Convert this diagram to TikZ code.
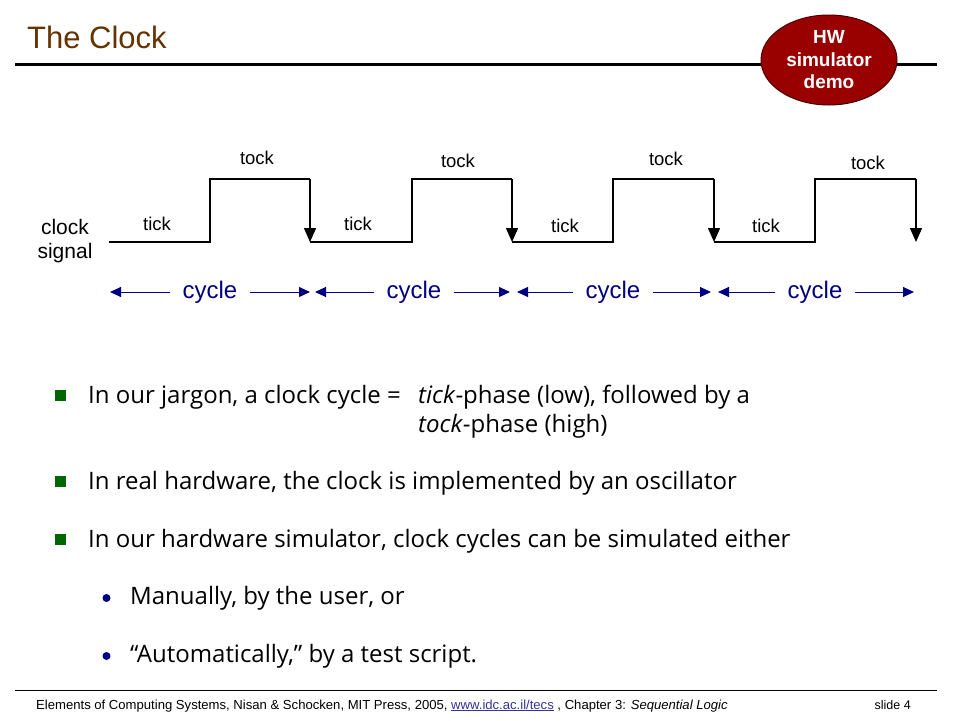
\documentclass[tikz,border=0pt]{standalone}
\usepackage{fontspec}
\setmainfont{Liberation Sans}
\newfontfamily\bodyfont{Open Sans}
\usetikzlibrary{arrows.meta,shapes.geometric}
\definecolor{titlebrown}{HTML}{663300}
\definecolor{demored}{HTML}{990000}
\definecolor{demoedge}{HTML}{4A0000}
\definecolor{cyclenavy}{HTML}{000080}
\definecolor{bulletgreen}{HTML}{006600}
\definecolor{linkblue}{HTML}{333399}
\tikzset{
  wave/.style={line width=1.4pt, black},
  fall/.style={wave, -{Triangle[length=14pt,width=12pt]}},
  cyc/.style={line width=1pt, cyclenavy, -{Triangle[length=11pt,width=10pt]}},
  wlabel/.style={font=\fontsize{18.5}{22}\selectfont, inner sep=0pt},
  cyclabel/.style={font=\fontsize{24}{28}\selectfont, text=cyclenavy, inner sep=12pt},
  bodytxt/.style={font=\bodyfont\fontsize{24}{28}\selectfont, anchor=base west, inner sep=0pt},
  sq/.style={fill=bulletgreen, minimum size=11pt, inner sep=0pt},
  dot/.style={circle, fill=cyclenavy, minimum size=8pt, inner sep=0pt},
}
\begin{document}
\begin{tikzpicture}[x=1pt,y=-1pt]
\useasboundingbox (0,0) rectangle (960,720);
% title
\node[anchor=base west, inner sep=0pt, text=titlebrown, font=\fontsize{31}{36}\selectfont] (title) at (27,48) {The Clock};
\draw[line width=3pt] (15,64) -- (937,64);
\node[ellipse, draw=demoedge, fill=demored, line width=1pt, minimum width=136pt, minimum height=90pt, inner sep=0pt,
      align=center, text=white, font=\bfseries\fontsize{19}{22.5}\selectfont] (demo) at (829,60) {HW\\simulator\\demo};
% clock signal label
\node[align=center, font=\fontsize{21}{24.5}\selectfont, inner sep=0pt] (clk) at (65,241) {clock\\signal};
% waveform
\foreach \i/\a/\b/\c in {0/109/210/310, 1/310/412/512, 2/512/613/714, 3/714/815/916}{
  \coordinate (lo\i) at (\a,242);
  \coordinate (up\i) at (\b,242);
  \coordinate (hi\i) at (\b,179);
  \coordinate (tp\i) at (\c,179);
  \coordinate (dn\i) at (\c,242);
  \draw[wave] (lo\i) -- (up\i) -- (hi\i) -- (tp\i);
  \draw[fall] (tp\i) -- (dn\i);
}
\node[wlabel] (tick0) at (157,224) {tick};
\node[wlabel] (tick1) at (358,224) {tick};
\node[wlabel] (tick2) at (565,226) {tick};
\node[wlabel] (tick3) at (766,226) {tick};
\node[wlabel] (tock0) at (257,158) {tock};
\node[wlabel] (tock1) at (458,161) {tock};
\node[wlabel] (tock2) at (666,159) {tock};
\node[wlabel] (tock3) at (868,163) {tock};
% cycles
\foreach \i/\x/\l/\r in {0/210/110/310, 1/414/315/510, 2/613/517/711, 3/815/718/914}{
  \node[cyclabel] (cy\i) at (\x,292) {cycle};
  \coordinate (cl\i) at (\l,292);
  \coordinate (cr\i) at (\r,292);
  \draw[cyc] (cy\i.west) -- (cl\i);
  \draw[cyc] (cy\i.east) -- (cr\i);
}
% bullets
\node[sq] (b1) at (60,395) {};
\node[sq] (b2) at (60,481) {};
\node[sq] (b3) at (60,539) {};
\node[bodytxt] (t1) at (88,403) {In our jargon, a clock cycle =};
\node[bodytxt] (t1b) at (418,403) {\textit{tick}-phase (low), followed by a};
\node[bodytxt] (t1c) at (418,432) {\textit{tock}-phase (high)};
\node[bodytxt] (t2) at (88,489) {In real hardware, the clock is implemented by an oscillator};
\node[bodytxt] (t3) at (88,547) {In our hardware simulator, clock cycles can be simulated either};
\node[dot] (d1) at (106.5,598) {};
\node[dot] (d2) at (106.5,656) {};
\node[bodytxt] (s1) at (130,604) {Manually, by the user, or};
\node[bodytxt] (s2) at (130,662) {“Automatically,” by a test script.};
% footer
\draw[line width=0.8pt] (15,690) -- (937,690);
\node[anchor=base west, inner sep=0pt, font=\fontsize{13.1}{15}\selectfont] (foot) at (36,709)
  {Elements of Computing Systems, Nisan \& Schocken, MIT Press, 2005, \textcolor{linkblue}{\underline{www.idc.ac.il/tecs}} , Chapter 3: \textit{Sequential Logic}};
\node[anchor=base east, inner sep=0pt, font=\fontsize{12.5}{15}\selectfont] (slide) at (911,709) {slide 4};
\end{tikzpicture}
\end{document}
